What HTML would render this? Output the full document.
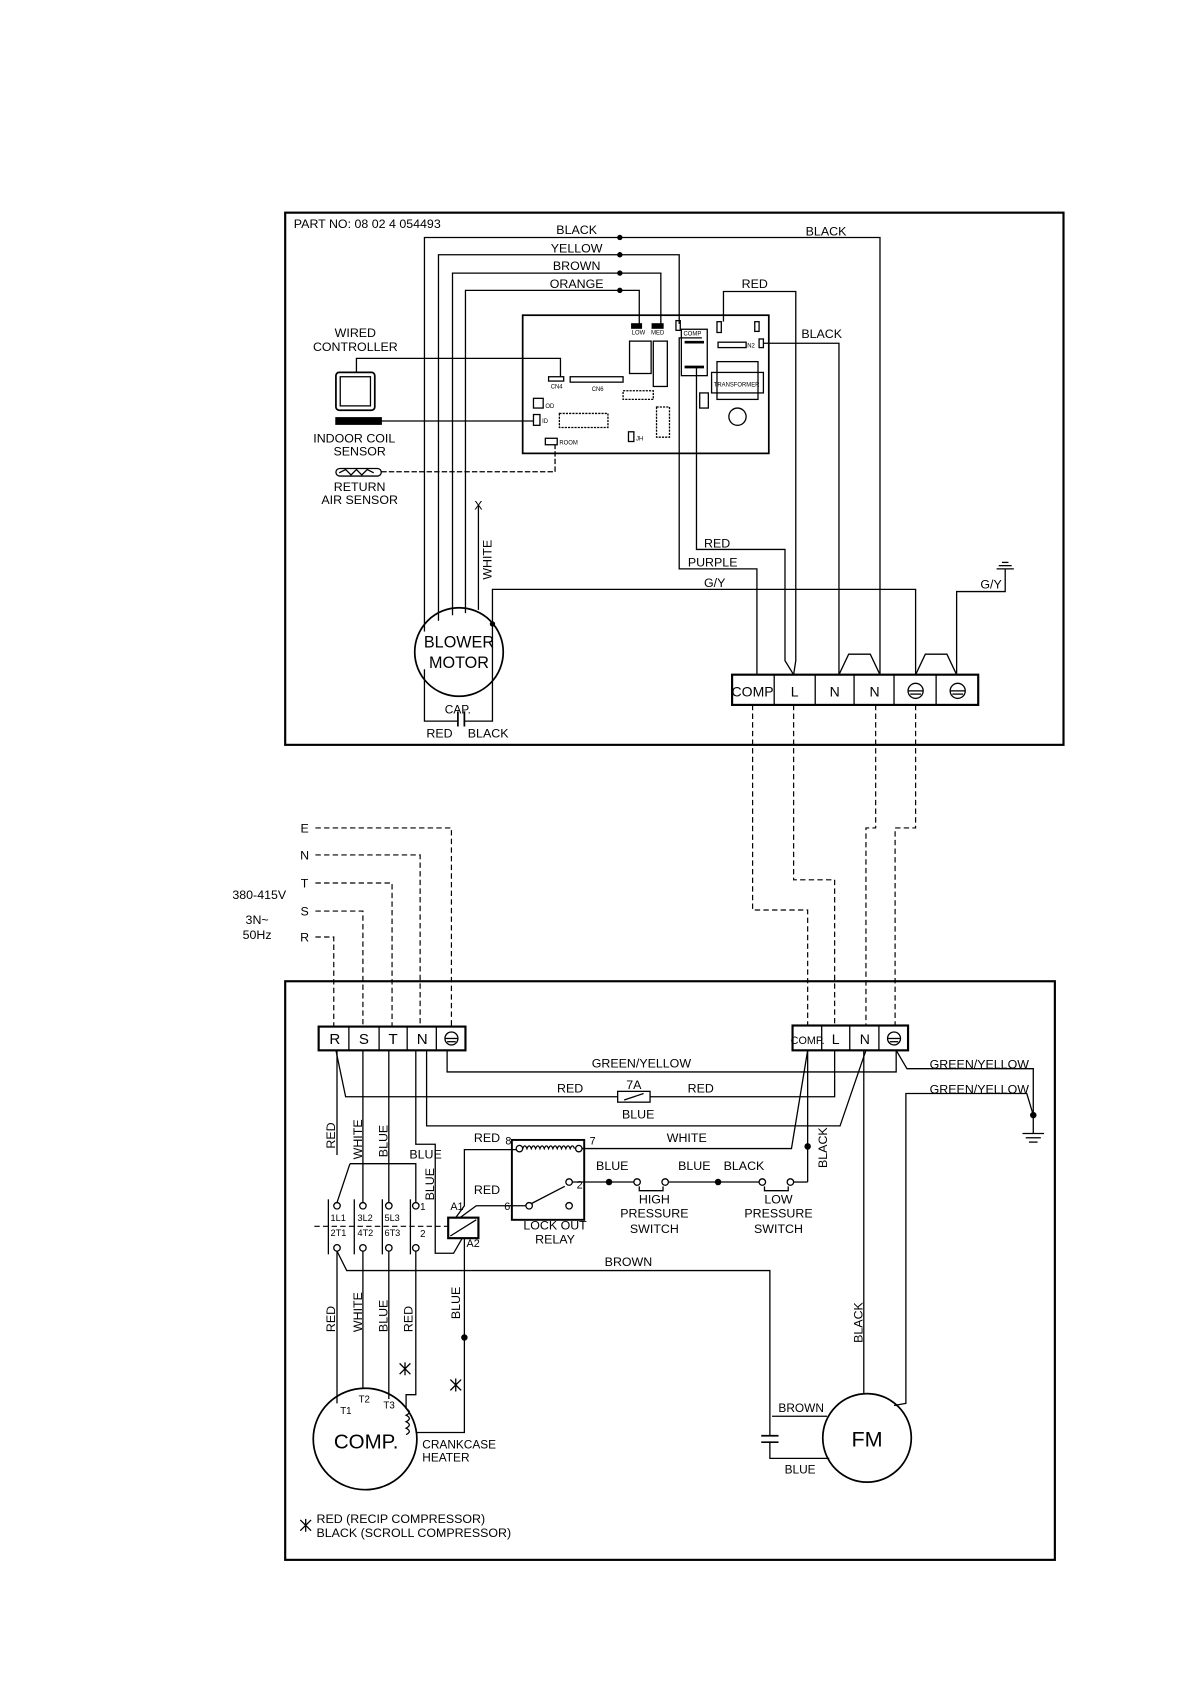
<!DOCTYPE html>
<html><head><meta charset="utf-8"><style>
html,body{margin:0;padding:0;background:#fff}
svg{display:block}
text{font-family:"Liberation Sans",sans-serif;fill:#000}
</style></head><body>
<svg width="1190" height="1684" viewBox="0 0 1102 1560" xmlns="http://www.w3.org/2000/svg">
<g fill="none" stroke="#000" stroke-width="1.2">
<!-- ===== TOP BOX ===== -->
<rect x="264" y="197" width="721" height="493" stroke-width="2"/>
<!-- motor wires -->
<polyline points="393,585 393,220 815,220 815,625"/>
<polyline points="406,575 406,236 629,236 629,300"/>
<polyline points="419,570 419,253 612,253 612,300"/>
<polyline points="431,568 431,269 592,269 592,300"/>
<!-- white -->
<line x1="443" y1="468" x2="443" y2="565"/>
<!-- board -->
<rect x="484" y="292" width="228" height="128" stroke-width="1.6"/>
<rect x="585" y="300" width="9" height="4" fill="#000"/>
<rect x="604" y="300" width="10" height="4" fill="#000"/>
<rect x="626" y="297" width="4" height="9"/>
<rect x="583" y="316" width="20" height="30"/>
<rect x="605" y="316" width="13" height="42"/>
<rect x="631" y="305" width="24" height="43"/>
<line x1="634" y1="317" x2="652" y2="317" stroke-width="2.5"/>
<line x1="634" y1="340" x2="652" y2="340" stroke-width="2.5"/>
<rect x="664" y="298" width="4" height="10"/>
<rect x="699" y="298" width="4" height="9"/>
<rect x="703" y="314" width="4" height="8"/>
<rect x="665" y="317" width="26" height="5"/>
<rect x="659" y="345" width="48" height="19"/>
<rect x="664" y="335" width="38" height="35"/>
<rect x="648" y="364" width="8" height="14"/>
<circle cx="683" cy="386" r="8"/>
<rect x="508" y="349" width="14" height="4"/>
<rect x="528" y="349" width="49" height="5"/>
<rect x="518" y="383" width="45" height="13" stroke-dasharray="2,1"/>
<rect x="577" y="362" width="28" height="8" stroke-dasharray="2,1"/>
<rect x="608" y="377" width="12" height="28" stroke-dasharray="2,1"/>
<rect x="494" y="369" width="9" height="9"/>
<rect x="494" y="384" width="6" height="10"/>
<rect x="505" y="406" width="11" height="6"/>
<rect x="582" y="400" width="5" height="9"/>
<!-- controller & sensors -->
<polyline points="330,345 330,332 519,332 519,349"/>
<rect x="311" y="345" width="36" height="35" rx="3" stroke-width="1.6"/>
<rect x="315" y="349" width="28" height="27"/>
<rect x="311" y="387" width="42" height="6" fill="#000"/>
<line x1="353" y1="390" x2="494" y2="390"/>
<rect x="311" y="434" width="42" height="7" rx="3.5"/>
<polyline points="314,438 320,435 325,440 330,435 335,440 340,435 346,438"/>
<polyline points="353,437 514,437 514,412" stroke-dasharray="5,2"/>
<!-- motor -->
<ellipse cx="425" cy="604" rx="41" ry="41" stroke-width="1.6"/>
<polyline points="393,620 393,668 424,668"/>
<polyline points="456,578 456,668 430,668"/>
<line x1="424" y1="659" x2="424" y2="673" stroke-width="1.6"/>
<line x1="430" y1="659" x2="430" y2="673" stroke-width="1.6"/>
<!-- PCB outputs -->
<polyline points="650,313 629,313 629,527 701,527 701,625"/>
<polyline points="645,341 645,509 727,509 727,612 735,625"/>
<polyline points="670,298 670,270 737,270 737,612 735,625"/>
<polyline points="707,318 777,318 777,625"/>
<polyline points="456,578 456,546 848,546 848,625"/>
<polyline points="886,625 886,548 931,548 931,527"/>
<line x1="923" y1="527" x2="939" y2="527"/>
<line x1="925" y1="524" x2="937" y2="524"/>
<line x1="928" y1="521" x2="934" y2="521"/>
<polyline points="777,625 786,606 806,606 815,625"/>
<polyline points="848,625 857,606 877,606 886,625"/>
<!-- top terminal block -->
<rect x="678" y="625" width="228" height="28" stroke-width="2"/>
<line x1="717" y1="625" x2="717" y2="653"/><line x1="755" y1="625" x2="755" y2="653"/>
<line x1="791" y1="625" x2="791" y2="653"/><line x1="828" y1="625" x2="828" y2="653"/>
<line x1="867" y1="625" x2="867" y2="653"/>
<circle cx="848" cy="640" r="7"/><line x1="841" y1="640" x2="855" y2="640"/><line x1="843" y1="643" x2="853" y2="643"/>
<circle cx="887" cy="640" r="7"/><line x1="880" y1="640" x2="894" y2="640"/><line x1="882" y1="643" x2="892" y2="643"/>
</g>
<g fill="#000">
<circle cx="574" cy="220" r="2.5"/><circle cx="574" cy="236" r="2.5"/><circle cx="574" cy="253" r="2.5"/><circle cx="574" cy="269" r="2.5"/>
<circle cx="456" cy="578" r="2.5"/>
</g>
<g font-size="11.5">
<text x="272" y="211">PART NO: 08 02 4 054493</text>
<text x="534" y="217" text-anchor="middle">BLACK</text>
<text x="534" y="234" text-anchor="middle">YELLOW</text>
<text x="534" y="250" text-anchor="middle">BROWN</text>
<text x="534" y="267" text-anchor="middle">ORANGE</text>
<text x="765" y="218" text-anchor="middle">BLACK</text>
<text x="699" y="267" text-anchor="middle">RED</text>
<text x="761" y="313" text-anchor="middle">BLACK</text>
<text x="329" y="312" text-anchor="middle">WIRED</text>
<text x="329" y="325" text-anchor="middle">CONTROLLER</text>
<text x="328" y="410" text-anchor="middle">INDOOR COIL</text>
<text x="333" y="422" text-anchor="middle">SENSOR</text>
<text x="333" y="455" text-anchor="middle">RETURN</text>
<text x="333" y="467" text-anchor="middle">AIR SENSOR</text>
<text x="443" y="472" text-anchor="middle">X</text>
<text transform="translate(455,537) rotate(-90)">WHITE</text>
<text x="652" y="507">RED</text>
<text x="637" y="525">PURPLE</text>
<text x="652" y="544">G/Y</text>
<text x="908" y="545">G/Y</text>
<text x="424" y="661" text-anchor="middle" font-size="11">CAP.</text>
<text x="407" y="683" text-anchor="middle">RED</text>
<text x="452" y="683" text-anchor="middle">BLACK</text>
<text x="425" y="600" text-anchor="middle" font-size="15">BLOWER</text>
<text x="425" y="619" text-anchor="middle" font-size="15">MOTOR</text>
<text x="697" y="645" text-anchor="middle" font-size="13">COMP</text>
<text x="736" y="645" text-anchor="middle" font-size="13">L</text>
<text x="773" y="645" text-anchor="middle" font-size="13">N</text>
<text x="810" y="645" text-anchor="middle" font-size="13">N</text>
<g font-size="5.5">
<text x="585" y="310">LOW</text><text x="603" y="310">MED</text><text x="633" y="311">COMP</text>
<text x="661" y="358">TRANSFORMER</text><text x="510" y="360">CN4</text><text x="548" y="362">CN6</text>
<text x="505" y="378">OD</text><text x="502" y="392">ID</text><text x="518" y="412">ROOM</text><text x="589" y="408">JH</text>
<text x="692" y="322">N2</text>
</g>
</g>

<!-- ===== DASHED INTERCONNECTS ===== -->
<g fill="none" stroke="#000" stroke-width="1.1" stroke-dasharray="5,3">
<polyline points="697,653 697,843 748,843 748,950"/>
<polyline points="735,653 735,815 773,815 773,950"/>
<polyline points="811,653 811,767 802,767 802,950"/>
<polyline points="848,653 848,767 829,767 829,950"/>
<polyline points="292,767 418,767 418,951"/>
<polyline points="292,792 389,792 389,951"/>
<polyline points="292,818 363,818 363,951"/>
<polyline points="292,844 336,844 336,951"/>
<polyline points="292,868 309,868 309,951"/>
<line x1="291" y1="1136" x2="415" y2="1136"/>
</g>
<g font-size="11.5">
<text x="282" y="771" text-anchor="middle">E</text>
<text x="282" y="796" text-anchor="middle">N</text>
<text x="282" y="822" text-anchor="middle">T</text>
<text x="282" y="848" text-anchor="middle">S</text>
<text x="282" y="872" text-anchor="middle">R</text>
<text x="240" y="833" text-anchor="middle">380-415V</text>
<text x="238" y="856" text-anchor="middle">3N~</text>
<text x="238" y="870" text-anchor="middle">50Hz</text>
</g>

<!-- ===== BOTTOM BOX ===== -->
<g fill="none" stroke="#000" stroke-width="1.2">
<rect x="264" y="909" width="713" height="536" stroke-width="2"/>
<!-- left terminal -->
<rect x="295" y="951" width="136" height="22" stroke-width="2"/>
<line x1="323" y1="951" x2="323" y2="973"/><line x1="351" y1="951" x2="351" y2="973"/>
<line x1="377" y1="951" x2="377" y2="973"/><line x1="404" y1="951" x2="404" y2="973"/>
<circle cx="418" cy="962" r="6"/><line x1="412" y1="962" x2="424" y2="962"/><line x1="414" y1="965" x2="422" y2="965"/>
<!-- right terminal -->
<rect x="734" y="950" width="107" height="23" stroke-width="2"/>
<line x1="761" y1="950" x2="761" y2="973"/><line x1="787" y1="950" x2="787" y2="973"/><line x1="814" y1="950" x2="814" y2="973"/>
<circle cx="828" cy="962" r="6"/><line x1="822" y1="962" x2="834" y2="962"/><line x1="824" y1="965" x2="832" y2="965"/>
<!-- green/yellow -->
<polyline points="414,973 414,993 830,993 830,973"/>
<polyline points="830,973 840,990 957,990 957,1050"/>
<polyline points="957,1033 951,1013 839,1013 839,1300 828,1302"/>
<line x1="947" y1="1050" x2="967" y2="1050"/><line x1="950" y1="1054" x2="964" y2="1054"/><line x1="953" y1="1058" x2="961" y2="1058"/>
<!-- red through fuse -->
<polyline points="311,973 320,1016 572,1016"/>
<polyline points="602,1016 773,1016 773,973"/>
<rect x="572" y="1011" width="30" height="10"/>
<line x1="578" y1="1019" x2="596" y2="1013"/>
<!-- blue from N -->
<polyline points="395,973 395,1043 778,1043 802,973"/>
<!-- N to coil -->
<polyline points="385,973 385,1060 403,1060 403,1161 420,1161 428,1147"/>
<!-- R down -->
<polyline points="312,973 312,1070"/>
<polyline points="324,1078 312,1114"/>
<polyline points="324,1078 385,1078 385,1114"/>
<line x1="336" y1="973" x2="336" y2="1114"/>
<line x1="360" y1="973" x2="360" y2="1114"/>
<!-- contactor -->
<circle cx="312" cy="1117" r="3"/><circle cx="336" cy="1117" r="3"/><circle cx="360" cy="1117" r="3"/><circle cx="385" cy="1117" r="3"/>
<circle cx="312" cy="1156" r="3"/><circle cx="336" cy="1156" r="3"/><circle cx="360" cy="1156" r="3"/><circle cx="385" cy="1156" r="3"/>
<line x1="304" y1="1111" x2="304" y2="1162"/><line x1="328" y1="1111" x2="328" y2="1162"/>
<line x1="354" y1="1111" x2="354" y2="1162"/><line x1="380" y1="1111" x2="380" y2="1162"/>
<!-- coil -->
<rect x="415" y="1128" width="28" height="19" stroke-width="2"/>
<line x1="417" y1="1145" x2="441" y2="1130"/>
<polyline points="422,1128 430,1117 430,1065 478,1065"/>
<polyline points="426,1128 441,1117 487,1117"/>
<line x1="430" y1="1147" x2="430" y2="1239"/>
<!-- relay -->
<rect x="474" y="1056" width="67" height="74" stroke-width="1.8"/>
<circle cx="481" cy="1064" r="3"/><circle cx="536" cy="1064" r="3"/>
<path d="M484,1064 q2,-5 4,0 q2,-5 4,0 q2,-5 4,0 q2,-5 4,0 q2,-5 4,0 q2,-5 4,0 q2,-5 4,0 q2,-5 4,0 q2,-5 4,0 q2,-5 4,0 q2,-5 4,0 q2,-5 4,0"/>
<circle cx="527" cy="1095" r="3"/><circle cx="490" cy="1117" r="3"/><circle cx="527" cy="1117" r="3"/>
<line x1="492" y1="1115" x2="523" y2="1099"/>
<!-- white from 7 -->
<polyline points="539,1064 733,1064 748,973"/>
<line x1="748" y1="973" x2="748" y2="1095"/>
<!-- pressure switch chain -->
<line x1="530" y1="1095" x2="587" y2="1095"/>
<circle cx="590" cy="1095" r="3"/><circle cx="616" cy="1095" r="3"/>
<polyline points="592,1099 592,1103 614,1103 614,1099"/>
<line x1="619" y1="1095" x2="703" y2="1095"/>
<circle cx="706" cy="1095" r="3"/><circle cx="732" cy="1095" r="3"/>
<polyline points="708,1099 708,1103 730,1103 730,1099"/>
<polyline points="735,1095 748,1095"/>
<!-- brown -->
<polyline points="312,1159 321,1177 713,1177 713,1330"/>
<!-- lower wires to comp -->
<line x1="312" y1="1159" x2="312" y2="1300"/>
<line x1="336" y1="1159" x2="336" y2="1286"/>
<line x1="360" y1="1159" x2="360" y2="1296"/>
<polyline points="385,1159 385,1292 376,1292 376,1305"/>
<path d="M376,1305 q6,3 0,6 q6,3 0,6 q6,3 0,6 q6,3 0,6"/>
<polyline points="386,1327 430,1327 430,1239"/>
<ellipse cx="338" cy="1333" rx="48" ry="47" stroke-width="1.6"/>
<!-- FM -->
<ellipse cx="803" cy="1332" rx="41" ry="41" stroke-width="1.6"/>
<line x1="800" y1="973" x2="800" y2="1291"/>
<line x1="705" y1="1330" x2="721" y2="1330" stroke-width="1.6"/>
<line x1="705" y1="1336" x2="721" y2="1336" stroke-width="1.6"/>
<polyline points="713,1336 713,1351 768,1351"/>
<polyline points="715,1312 766,1312"/>
<!-- x marks -->
<path d="M370,1263 l10,10 M380,1263 l-10,10 M375,1262 v12"/>
<path d="M417,1278 l10,10 M427,1278 l-10,10 M422,1277 v12"/>
<path d="M278,1408 l10,10 M288,1408 l-10,10 M283,1407 v12"/>
</g>
<g fill="#000">
<circle cx="564" cy="1095" r="3"/><circle cx="665" cy="1095" r="3"/>
<circle cx="748" cy="1062" r="3"/><circle cx="430" cy="1239" r="3"/>
<circle cx="957" cy="1033" r="3"/>
</g>
<g font-size="11.5">
<text x="310" y="967" text-anchor="middle" font-size="14">R</text>
<text x="337" y="967" text-anchor="middle" font-size="14">S</text>
<text x="364" y="967" text-anchor="middle" font-size="14">T</text>
<text x="391" y="967" text-anchor="middle" font-size="14">N</text>
<text x="748" y="967" text-anchor="middle" font-size="10">COMP.</text>
<text x="774" y="967" text-anchor="middle" font-size="13">L</text>
<text x="801" y="967" text-anchor="middle" font-size="13">N</text>
<text x="594" y="989" text-anchor="middle">GREEN/YELLOW</text>
<text x="907" y="990" text-anchor="middle">GREEN/YELLOW</text>
<text x="907" y="1013" text-anchor="middle">GREEN/YELLOW</text>
<text x="528" y="1012" text-anchor="middle">RED</text>
<text x="649" y="1012" text-anchor="middle">RED</text>
<text x="587" y="1009" text-anchor="middle">7A</text>
<text x="591" y="1036" text-anchor="middle">BLUE</text>
<text x="636" y="1058" text-anchor="middle">WHITE</text>
<text x="451" y="1058" text-anchor="middle">RED</text>
<text x="451" y="1106" text-anchor="middle">RED</text>
<text x="468" y="1060" font-size="10">8</text>
<text x="546" y="1060" font-size="10">7</text>
<text x="534" y="1101" font-size="10">2</text>
<text x="467" y="1121" font-size="10">6</text>
<text x="567" y="1084" text-anchor="middle">BLUE</text>
<text x="643" y="1084" text-anchor="middle">BLUE</text>
<text x="689" y="1084" text-anchor="middle">BLACK</text>
<text x="606" y="1115" text-anchor="middle">HIGH</text>
<text x="606" y="1128" text-anchor="middle">PRESSURE</text>
<text x="606" y="1142" text-anchor="middle">SWITCH</text>
<text x="721" y="1115" text-anchor="middle">LOW</text>
<text x="721" y="1128" text-anchor="middle">PRESSURE</text>
<text x="721" y="1142" text-anchor="middle">SWITCH</text>
<text x="514" y="1139" text-anchor="middle">LOCK OUT</text>
<text x="514" y="1152" text-anchor="middle">RELAY</text>
<text x="582" y="1173" text-anchor="middle">BROWN</text>
<text x="379" y="1073">BLUE</text>
<text x="417" y="1121" font-size="10">A1</text>
<text x="432" y="1155" font-size="10">A2</text>
<text x="389" y="1121" font-size="9">1</text>
<text x="389" y="1146" font-size="9">2</text>
<g font-size="8.5">
<text x="306" y="1131">1L1</text><text x="331" y="1131">3L2</text><text x="356" y="1131">5L3</text>
<text x="306" y="1145">2T1</text><text x="331" y="1145">4T2</text><text x="356" y="1145">6T3</text>
</g>
<text transform="translate(310,1064) rotate(-90)">RED</text>
<text transform="translate(335,1074) rotate(-90)">WHITE</text>
<text transform="translate(359,1072) rotate(-90)">BLUE</text>
<text transform="translate(402,1112) rotate(-90)">BLUE</text>
<text transform="translate(766,1082) rotate(-90)">BLACK</text>
<text transform="translate(310,1234) rotate(-90)">RED</text>
<text transform="translate(335,1234) rotate(-90)">WHITE</text>
<text transform="translate(359,1234) rotate(-90)">BLUE</text>
<text transform="translate(382,1234) rotate(-90)">RED</text>
<text transform="translate(426,1222) rotate(-90)">BLUE</text>
<text transform="translate(799,1244) rotate(-90)">BLACK</text>
<text x="315" y="1310" font-size="9">T1</text>
<text x="332" y="1299" font-size="9">T2</text>
<text x="355" y="1305" font-size="9">T3</text>
<text x="339" y="1342" text-anchor="middle" font-size="19">COMP.</text>
<text x="391" y="1342" font-size="11">CRANKCASE</text>
<text x="391" y="1354" font-size="11">HEATER</text>
<text x="803" y="1340" text-anchor="middle" font-size="20">FM</text>
<text x="742" y="1308" text-anchor="middle" font-size="11">BROWN</text>
<text x="741" y="1365" text-anchor="middle" font-size="11">BLUE</text>
<text x="293" y="1411">RED (RECIP COMPRESSOR)</text>
<text x="293" y="1424">BLACK (SCROLL COMPRESSOR)</text>
</g>
</svg>
</body></html>
